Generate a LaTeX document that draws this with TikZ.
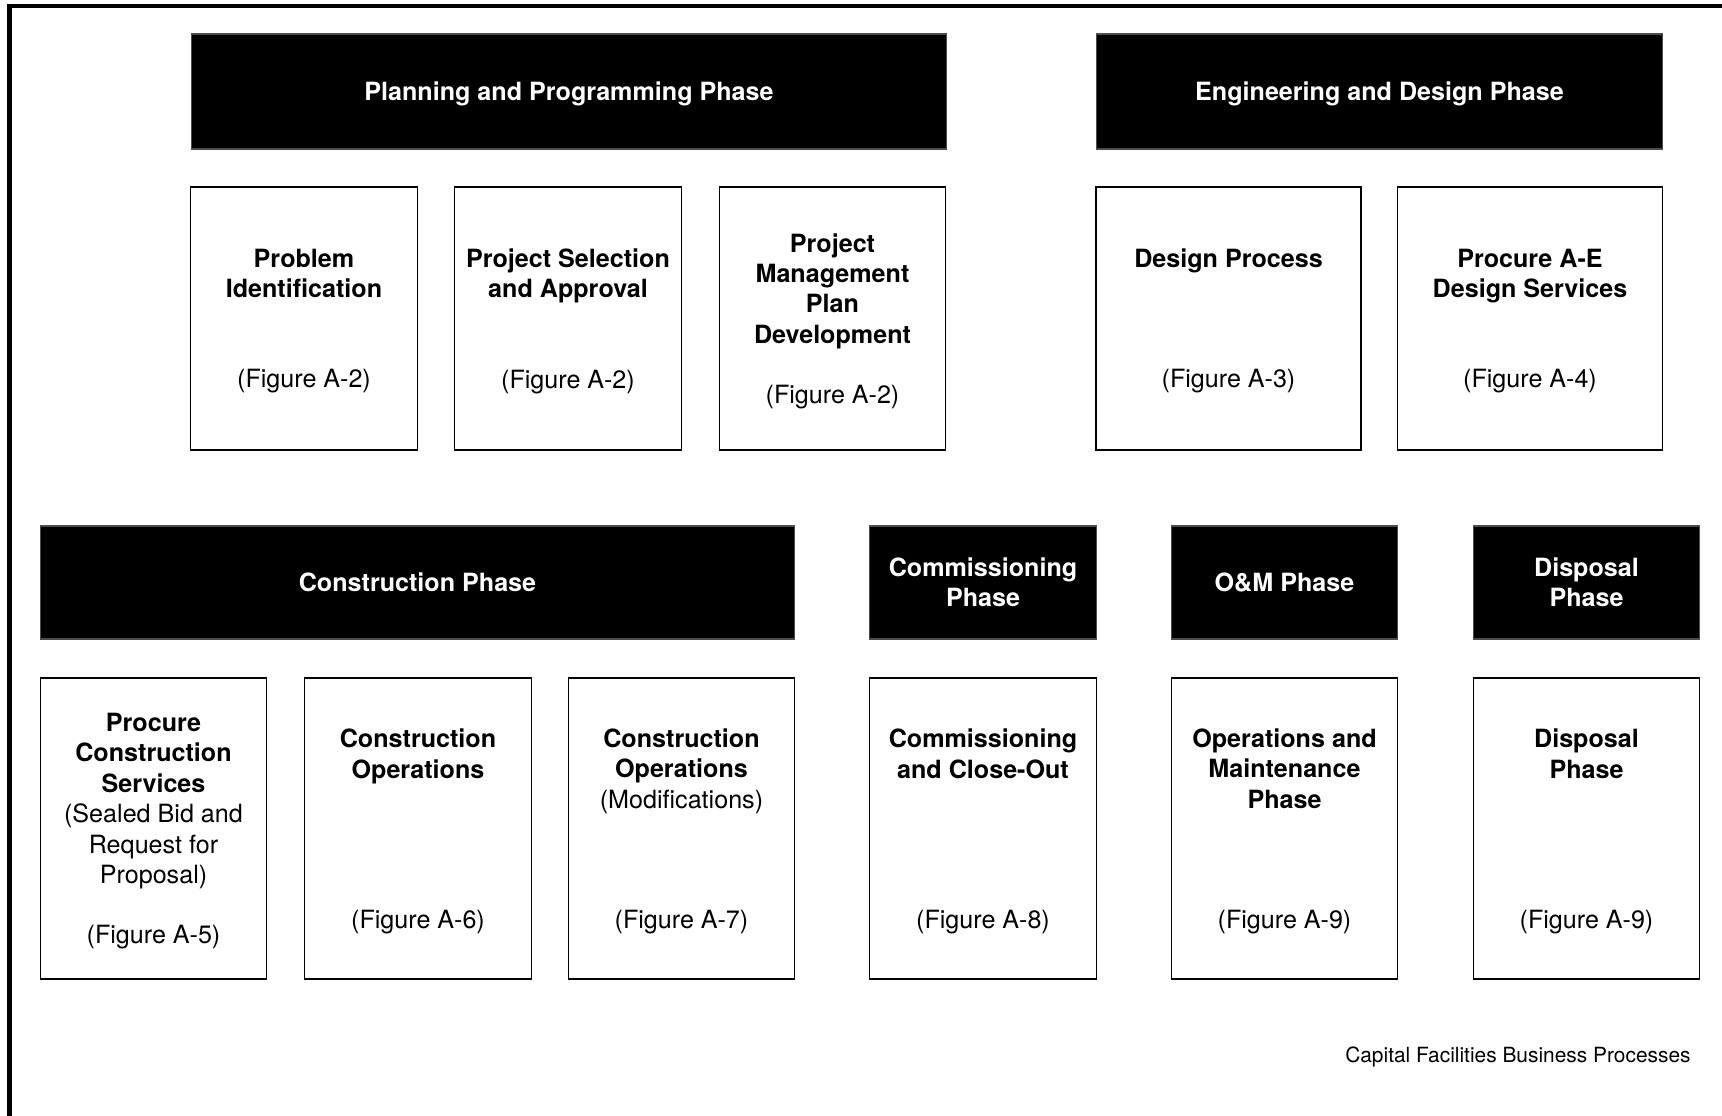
\documentclass[tikz,border=0pt]{standalone}
\usepackage{fontspec}
\setmainfont{TeX Gyre Heros}
\usepackage{tikz}

\newcommand{\nodepth}[1]{\raisebox{0pt}[\height][0pt]{#1}}

\tikzset{
  phasebar/.style={fill=black, draw=black!70, line width=0.6pt, text=white, align=center,
    font=\bfseries\fontsize{14.3}{17.3}\selectfont},
  card/.style={draw=black, line width=0.8pt, align=center, minimum width=4.53cm,
    font=\fontsize{14.3}{17.3}\selectfont},
  toprow/.style={card, minimum height=5.26cm},
  lowrow/.style={card, minimum height=6.02cm},
}

\begin{document}
\begin{tikzpicture}[x=0.02cm, y=-0.02cm]
            \useasboundingbox (0,0) rectangle (1722,1116);
            \draw[line width=2.6pt] (9.5,1116) -- (9.5,6) -- (1722,6);

            \node[phasebar, minimum width=15.12cm, minimum height=2.3cm] (plan) at (569,91.5) {\nodepth{Planning and Programming Phase}};
            \node[phasebar, minimum width=11.34cm, minimum height=2.3cm] (eng) at (1379.5,91.5) {\nodepth{Engineering and Design Phase}};

            \node[toprow] (probid) at (304,318.5) {\textbf{Problem}\\\textbf{Identification}\\[34pt]\nodepth{(Figure A-2)}};
            \node[toprow] (select) at (568,318.5) {\textbf{Project Selection}\\\textbf{and Approval}\\[34pt]\nodepth{(Figure A-2)}};
            \node[toprow] (pmplan) at (832.5,318.5) {\textbf{Project}\\\textbf{Management}\\\textbf{Plan}\\\textbf{Development}\\[17pt]\nodepth{(Figure A-2)}};
            \node[toprow, minimum width=5.3cm] (design) at (1228.5,318.5) {\textbf{Design Process}\\[51pt]\nodepth{(Figure A-3)}};
            \node[toprow, minimum width=5.3cm] (procae) at (1530,318.5) {\textbf{Procure A-E}\\\textbf{Design Services}\\[34pt]\nodepth{(Figure A-4)}};

            \node[phasebar, minimum width=15.1cm, minimum height=2.26cm] (constr) at (417.5,582.5) {Construction Phase};
            \node[phasebar, minimum width=4.53cm, minimum height=2.26cm] (comm) at (983,582.5) {Commissioning\\Phase};
            \node[phasebar, minimum width=4.53cm, minimum height=2.26cm] (om) at (1284.5,582.5) {O\&M Phase};
            \node[phasebar, minimum width=4.53cm, minimum height=2.26cm] (disp) at (1586.5,582.5) {Disposal\\Phase};

            \node[lowrow] (proccon) at (153.5,828.5) {\textbf{Procure}\\\textbf{Construction}\\\textbf{Services}\\(Sealed Bid and\\Request for\\Proposal)\\[17pt]\nodepth{(Figure A-5)}};
            \node[lowrow] (conops) at (418,828.5) {\textbf{Construction}\\\textbf{Operations}\\[68pt]\nodepth{(Figure A-6)}};
            \node[lowrow] (conmod) at (681.5,828.5) {\textbf{Construction}\\\textbf{Operations}\\(Modifications)\\[51pt]\nodepth{(Figure A-7)}};
            \node[lowrow] (closeout) at (983,828.5) {\textbf{Commissioning}\\\textbf{and Close-Out}\\[68pt]\nodepth{(Figure A-8)}};
            \node[lowrow] (opsmaint) at (1284.5,828.5) {\textbf{Operations and}\\\textbf{Maintenance}\\\textbf{Phase}\\[51pt]\nodepth{(Figure A-9)}};
            \node[lowrow] (dispbox) at (1586.5,828.5) {\textbf{Disposal}\\\textbf{Phase}\\[68pt]\nodepth{(Figure A-9)}};

            \node[anchor=east, inner sep=0pt, font=\fontsize{11.9}{14}\selectfont] (caption) at (1691,1057) {Capital Facilities Business Processes};
        \end{tikzpicture}
\end{document}
